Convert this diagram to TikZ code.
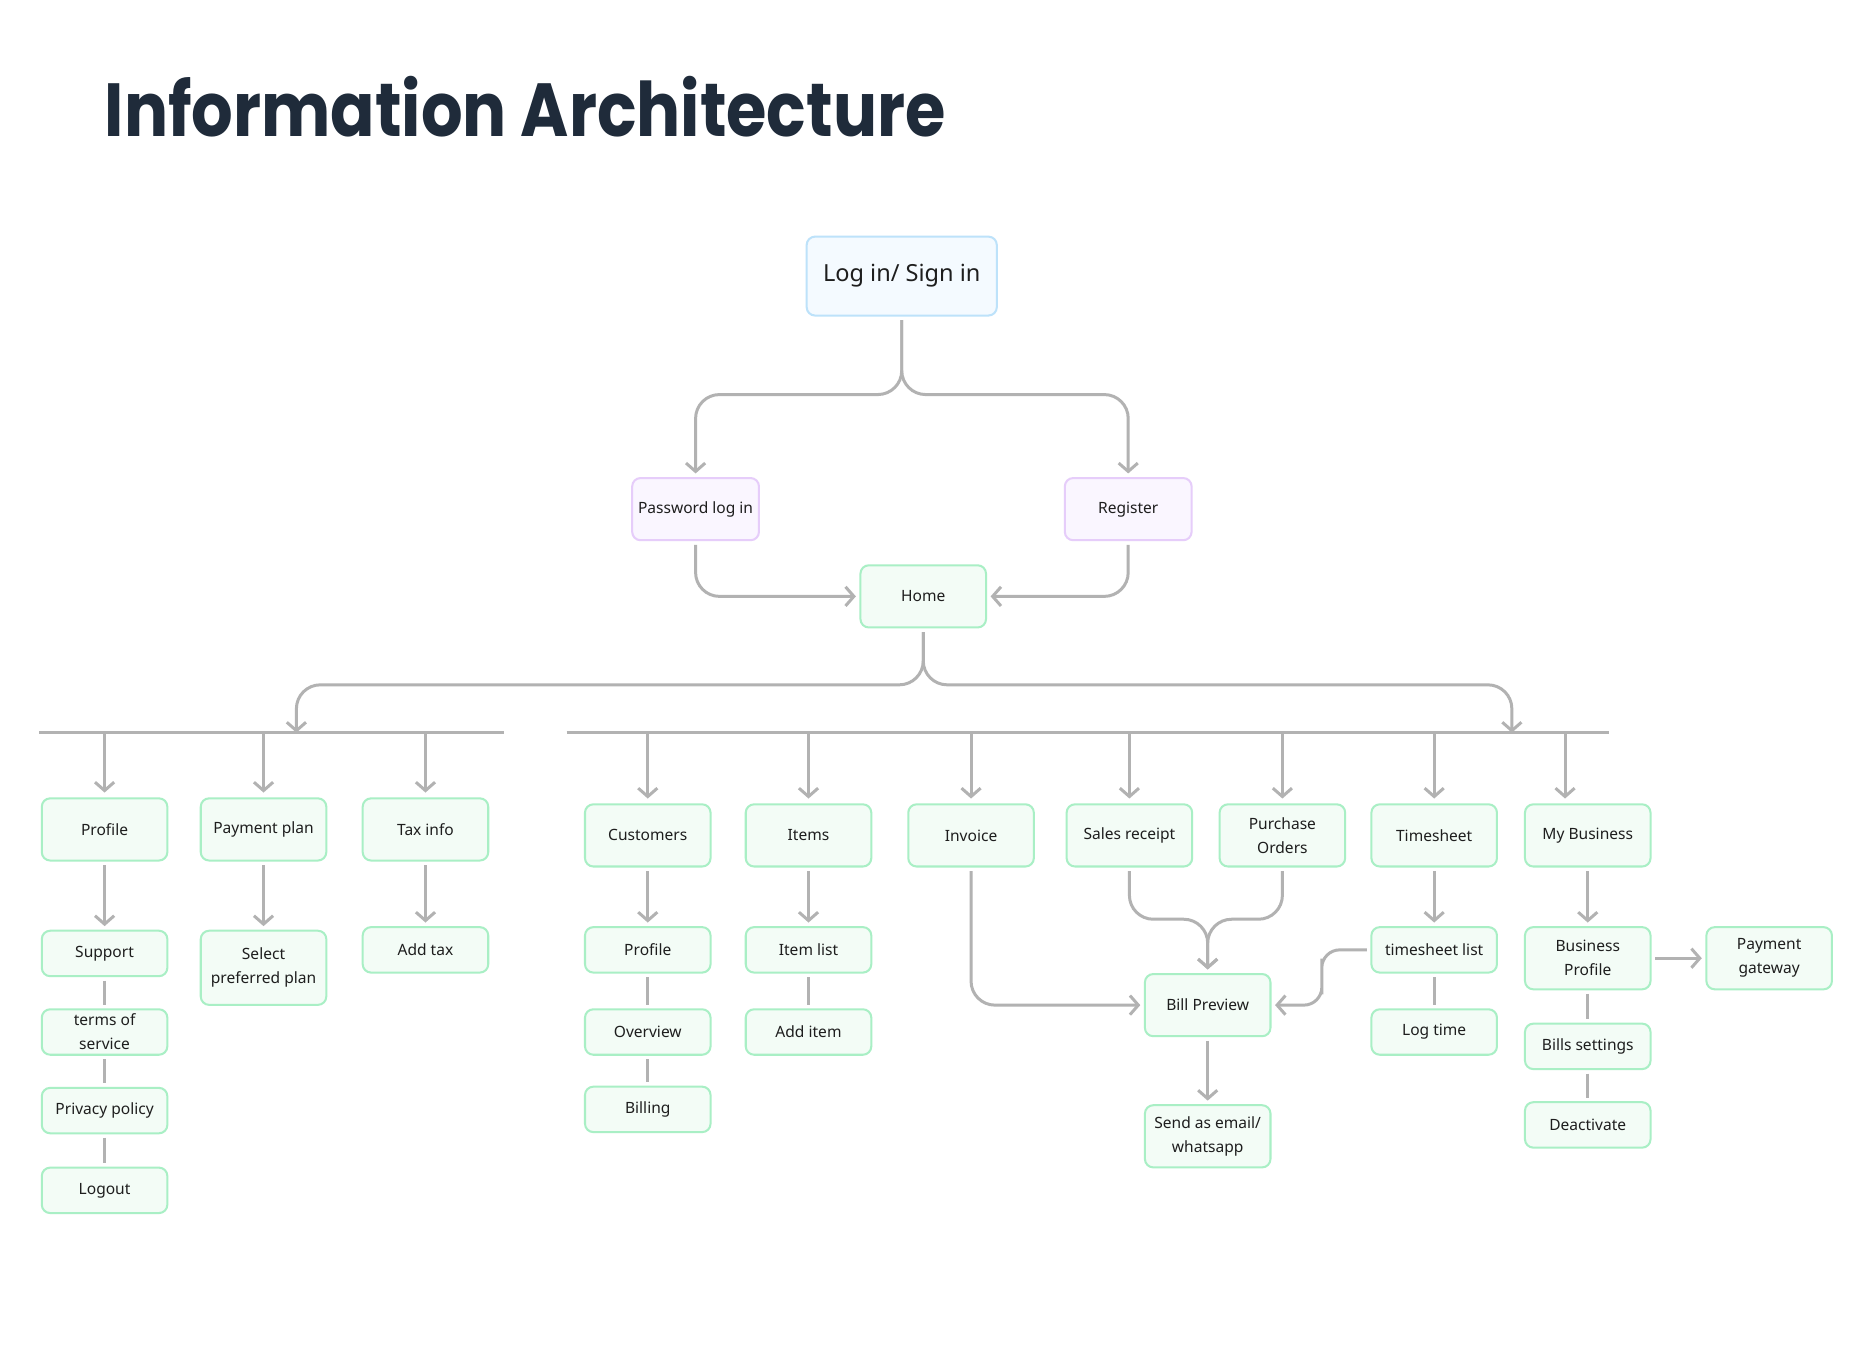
\documentclass[tikz,border=0pt]{standalone}
\usepackage{fontspec}
\setmainfont{Noto Sans}
\newfontfamily\titlefont{Poppins}[FakeStretch=0.87]
\usepackage{tikz}
\usetikzlibrary{arrows.meta}
\usetikzlibrary{positioning}
\usetikzlibrary{calc}
\definecolor{linegray}{HTML}{B2B2B2}
\definecolor{greenline}{HTML}{A9EFC5}
\definecolor{greenfill}{HTML}{F3FCF6}
\definecolor{purpleline}{HTML}{E6CDFA}
\definecolor{purplefill}{HTML}{FAF6FF}
\definecolor{blueline}{HTML}{BDE2FA}
\definecolor{bluefill}{HTML}{F4FAFF}
\definecolor{inkdark}{HTML}{1E1E1E}
\definecolor{titleink}{HTML}{1F2B3A}

\begin{document}
\begin{tikzpicture}[x=0.01cm,y=-0.01cm,>={Straight Barb[length=0.07cm,width=0.16cm]}]
 \tikzstyle{page node}=[rectangle,rounded corners=0.07cm,draw=greenline,fill=greenfill,line width=0.017cm,minimum width=1.05cm,minimum height=0.52cm,inner sep=0pt,align=center,text=inkdark,font=\fontsize{3.7}{5.7}\selectfont]
 \tikzstyle{short node}=[page node,minimum height=0.38cm]
 \tikzstyle{auth node}=[page node,draw=purpleline,fill=purplefill,minimum width=1.06cm]
 \tikzstyle{entry node}=[page node,draw=blueline,fill=bluefill,minimum width=1.59cm,minimum height=0.66cm,font=\fontsize{5.6}{7}\selectfont]
 \tikzset{
 	flow/.style={draw=linegray,line width=0.025cm,rounded corners=0.2cm,shorten <=0.03cm,shorten >=0.03cm},
 	link/.style={draw=linegray,line width=0.025cm,shorten <=0.03cm,shorten >=0.03cm},
 	bar/.style={draw=linegray,line width=0.025cm}
 }

 \fill[white] (0,0) rectangle (1568,1130);
 \useasboundingbox (0,0) rectangle (1568,1130);

 \node[anchor=base west,inner sep=0pt,text=titleink,font=\titlefont\bfseries\fontsize{17.9}{20}\selectfont] (title) at (87,114) {Information Architecture};

       \node[entry node] (login) at (754.5,231) {Log in/ Sign in};
       \node[auth node] (pwd) at (582,426) {Password log in};
       \node[auth node] (reg) at (944,426) {Register};
       \node[page node] (home) at (772.5,499) {Home};

       % left group
       \node[page node] (profA) at (87.5,694) {Profile};
       \node[short node] (support) [below=0.57cm of profA] {Support};
       \node[short node] (terms) [below=0.26cm of support] {terms of\\service};
       \node[short node] (privacy) [below=0.26cm of terms] {Privacy policy};
       \node[short node] (logout) [below=0.27cm of privacy] {Logout};
       \node[page node] (payplan) at (220.5,694) {Payment plan};
       \node[page node,minimum height=0.62cm] (select) [below=0.57cm of payplan] {Select\\preferred plan};
       \node[page node] (taxinfo) at (356,694) {Tax info};
       \node[short node] (addtax) [below=0.54cm of taxinfo] {Add tax};

       % right group
       \node[page node] (customers) at (542,699) {Customers};
       \node[short node] (profB) [below=0.49cm of customers] {Profile};
       \node[short node] (overview) [below=0.29cm of profB] {Overview};
       \node[short node] (billing) [below=0.25cm of overview] {Billing};
       \node[page node] (items) at (676.5,699) {Items};
       \node[short node] (itemlist) [below=0.49cm of items] {Item list};
       \node[short node] (additem) [below=0.29cm of itemlist] {Add item};
       \node[page node] (invoice) at (812.5,699) {Invoice};
       \node[page node] (sales) at (945,699) {Sales receipt};
       \node[page node] (purchase) at (1073,699) {Purchase\\Orders};
       \node[page node] (timesheet) at (1200,699) {Timesheet};
       \node[short node] (tslist) [below=0.49cm of timesheet] {timesheet list};
       \node[short node] (logtime) [below=0.29cm of tslist] {Log time};
       \node[page node] (mybiz) at (1328.5,699) {My Business};
       \node[page node] (bizprof) [below=0.49cm of mybiz] {Business\\Profile};
       \node[page node] (paygw) [right=0.45cm of bizprof] {Payment\\gateway};
       \node[short node] (billset) [below=0.27cm of bizprof] {Bills settings};
       \node[short node] (deact) [below=0.26cm of billset] {Deactivate};
       \node[page node] (bill) at (1010.5,841) {Bill Preview};
       \node[page node] (send) [below=0.56cm of bill] {Send as email/\\whatsapp};

       \coordinate (barL) at (33,613);
       \coordinate (barLend) at (422,613);
       \coordinate (barR) at (474,613);
       \coordinate (barRend) at (1346,613);
       \coordinate (hubL) at (248,613);
       \coordinate (hubR) at (1265,613);
       \coordinate (merge) at ($(bill.north)+(0,-45)$);
       \coordinate (tsbend) at (1106,817);

     \draw[flow,->] (login.south) |- ($(pwd.north)+(0,-69)$) -- (pwd.north);
     \draw[flow,->] (login.south) |- ($(reg.north)+(0,-69)$) -- (reg.north);
     \draw[flow,->] (pwd.south) |- (home.west);
     \draw[flow,->] (reg.south) |- (home.east);

     \draw[bar] (barL) -- (barLend);
     \draw[bar] (barR) -- (barRend);
     \draw[flow,->,shorten >=0pt] (home.south) |- ($(hubL)+(0,-40)$) -- (hubL);
     \draw[flow,->,shorten >=0pt] (home.south) |- ($(hubR)+(0,-40)$) -- (hubR);

     \foreach \n in {profA,payplan,taxinfo}
       \draw[link,->,shorten <=0pt,shorten >=0.04cm] (barL -| \n.north) -- (\n.north);
     \foreach \n in {customers,items,invoice,sales,purchase,timesheet}
       \draw[link,->,shorten <=0pt,shorten >=0.04cm] (barR -| \n.north) -- (\n.north);
     \draw[link,->,shorten <=0pt,shorten >=0.04cm] (barR -| {$(mybiz.north)+(-19,0)$}) -- ($(mybiz.north)+(-19,0)$);

     \path[link,->] (profA) edge (support);
     \path[link] (support) edge (terms);
     \path[link] (terms) edge (privacy);
     \path[link] (privacy) edge (logout);
     \path[link,->] (payplan) edge (select);
     \path[link,->] (taxinfo) edge (addtax);

     \path[link,->] (customers) edge (profB);
     \path[link] (profB) edge (overview);
     \path[link] (overview) edge (billing);
     \path[link,->] (items) edge (itemlist);
     \path[link] (itemlist) edge (additem);

     \draw[flow,->] (invoice.south) |- (bill.west);
     \draw[flow,->] (sales.south) |- (merge) -- (bill.north);
     \draw[flow,->] (purchase.south) |- (merge) -- (bill.north);
     \draw[flow,->,rounded corners=0.15cm] (tslist.west) -| (tsbend) |- (bill.east);
     \path[link,->] (bill) edge (send);

     \path[link,->] (timesheet) edge (tslist);
     \path[link] (tslist) edge (logtime);
     \path[link,->] (mybiz) edge (bizprof);
     \path[link,->] (bizprof) edge (paygw);
     \path[link] (bizprof) edge (billset);
     \path[link] (billset) edge (deact);
 \end{tikzpicture}
\end{document}
